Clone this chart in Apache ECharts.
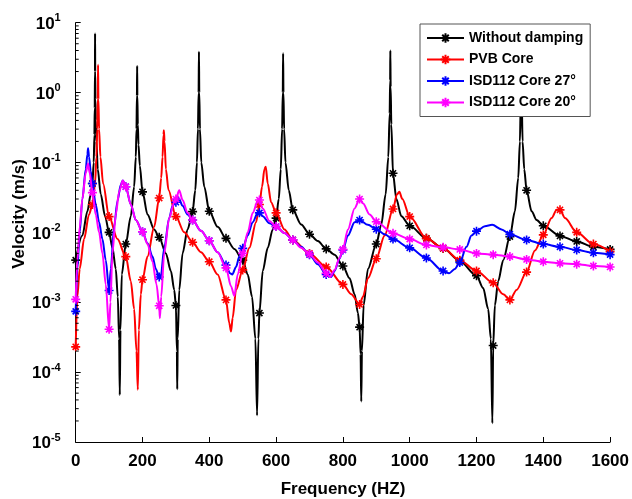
<!DOCTYPE html>
<html>
<head>
<meta charset="utf-8">
<script src="https://cdn.jsdelivr.net/npm/echarts@6/dist/echarts.min.js"></script>
<style>
html,body{margin:0;padding:0;background:#fff;}
#chart{width:632px;height:499px;}
</style>
</head>
<body>
<div id="chart"></div>
<script>
// ---- data: [frequency (Hz), velocity (m/s)] ----
const noDamping = [
 [0,0.004],[20,0.009],[35,0.02],[45,0.035],[50,0.05],[54,0.1],[56,0.25],[57,0.6],[57.7,2],[58,7],[58.4,2],[59,0.8],[60,0.4],[62,0.2],[66,0.08],[75,0.035],[88,0.017],[100,0.010],[110,0.006],[120,0.003],[126,0.0012],[130,0.0003],[132,4.7e-5],[134,0.0004],[138,0.0025],[150,0.0068],[165,0.017],[175,0.045],[180,0.12],[182,0.3],[183.3,0.9],[184,2.4],[184.6,0.9],[186,0.35],[188,0.18],[192,0.09],[200,0.038],[215,0.018],[235,0.011],[250,0.0085],[270,0.005],[285,0.0028],[295,0.0015],[300,0.0009],[303,0.0002],[304,5.7e-5],[305.5,0.0003],[310,0.0015],[320,0.005],[335,0.011],[350,0.0198],[358,0.04],[363,0.1],[366,0.3],[368,1.0],[369,3.85],[370,1.0],[372,0.3],[376,0.1],[385,0.045],[400,0.020],[425,0.012],[450,0.0082],[475,0.0058],[500,0.0040],[515,0.0025],[528,0.0012],[538,0.0003],[543,2.4e-5],[547,0.0003],[550,0.0007],[560,0.0028],[575,0.006],[590,0.011],[600,0.016],[608,0.03],[614,0.08],[618,0.3],[620,1.0],[621,3.65],[622,1.0],[624,0.3],[628,0.1],[638,0.04],[650,0.021],[675,0.013],[700,0.0094],[725,0.0075],[750,0.0058],[775,0.0048],[800,0.0033],[820,0.0022],[835,0.0013],[845,0.0007],[850,0.00044],[853,0.00018],[855,3.8e-5],[857,0.0002],[862,0.0009],[875,0.003],[900,0.0068],[915,0.013],[928,0.035],[936,0.12],[940,0.5],[941.5,1.5],[942,4],[943,1.2],[945,0.35],[950,0.070],[960,0.030],[975,0.017],[1000,0.0124],[1050,0.0082],[1100,0.0059],[1150,0.0039],[1200,0.0024],[1220,0.0016],[1235,0.0008],[1243,0.0003],[1247.5,1.86e-5],[1250,0.00024],[1255,0.0009],[1265,0.002],[1280,0.004],[1300,0.0087],[1315,0.02],[1325,0.06],[1330,0.2],[1333,1],[1334,3],[1335,1],[1338,0.2],[1343,0.08],[1350,0.040],[1365,0.02],[1380,0.015],[1400,0.0124],[1450,0.0089],[1500,0.0074],[1550,0.0062],[1600,0.0057]
];
const pvbCore = [
 [0,2.3e-4],[5,0.0012],[12,0.003],[25,0.008],[40,0.018],[50,0.025],[58,0.05],[62,0.12],[64.5,0.3],[66,0.8],[67,2.5],[68,0.8],[70,0.3],[74,0.12],[82,0.05],[100,0.0168],[125,0.008],[150,0.0045],[165,0.002],[175,0.0008],[182,0.0002],[186,5.6e-5],[189,0.0004],[195,0.0013],[200,0.0021],[215,0.0045],[235,0.012],[250,0.031],[256,0.06],[260,0.12],[263,0.25],[264,0.29],[266,0.2],[270,0.08],[278,0.04],[300,0.0168],[325,0.010],[350,0.0072],[375,0.0052],[400,0.0038],[425,0.0025],[450,0.00108],[460,0.0005],[465,0.00038],[470,0.0006],[480,0.0015],[500,0.0029],[520,0.006],[540,0.014],[550,0.025],[558,0.045],[565,0.08],[569,0.087],[575,0.05],[585,0.027],[600,0.019],[625,0.011],[650,0.0078],[700,0.0050],[750,0.0032],[800,0.0018],[825,0.0013],[850,0.00093],[860,0.0012],[875,0.0022],[900,0.0042],[925,0.009],[950,0.0216],[962,0.035],[969,0.038],[978,0.03],[1000,0.0168],[1050,0.0082],[1100,0.0059],[1150,0.0040],[1200,0.0028],[1250,0.0019],[1280,0.0013],[1300,0.00108],[1320,0.0015],[1350,0.0027],[1375,0.0055],[1400,0.0092],[1425,0.016],[1440,0.021],[1450,0.021],[1465,0.016],[1500,0.010],[1550,0.0068],[1600,0.0053]
];
const isd27 = [
 [0,7.4e-4],[5,0.003],[12,0.01],[20,0.03],[30,0.08],[35,0.13],[37,0.16],[40,0.12],[45,0.075],[50,0.050],[60,0.025],[70,0.014],[80,0.008],[90,0.004],[100,0.00147],[105,0.003],[115,0.012],[125,0.028],[135,0.048],[141,0.055],[150,0.045],[165,0.025],[180,0.015],[200,0.0102],[215,0.007],[230,0.0045],[240,0.003],[250,0.0023],[255,0.0024],[265,0.006],[280,0.016],[290,0.024],[300,0.027],[308,0.031],[320,0.024],[335,0.018],[350,0.015],[375,0.0105],[400,0.0076],[425,0.0052],[450,0.0034],[462,0.0026],[469,0.0025],[480,0.0032],[490,0.0045],[500,0.0059],[515,0.009],[530,0.014],[545,0.019],[550,0.019],[560,0.017],[580,0.0135],[600,0.0121],[625,0.0098],[650,0.0078],[675,0.0062],[700,0.0048],[725,0.0035],[750,0.0025],[765,0.0023],[775,0.0028],[790,0.0042],[800,0.0056],[815,0.009],[835,0.014],[850,0.015],[875,0.0128],[900,0.0111],[925,0.0094],[950,0.0080],[1000,0.0060],[1050,0.0043],[1100,0.0028],[1118,0.0026],[1135,0.003],[1150,0.0037],[1170,0.0062],[1185,0.009],[1200,0.0104],[1225,0.0122],[1247,0.0128],[1275,0.011],[1300,0.0094],[1350,0.0078],[1400,0.0068],[1450,0.0062],[1500,0.0056],[1550,0.0051],[1600,0.0048]
];
const isd20 = [
 [0,0.0011],[5,0.004],[12,0.012],[20,0.03],[30,0.07],[37,0.097],[42,0.07],[50,0.037],[60,0.018],[70,0.01],[80,0.005],[90,0.0018],[100,0.00041],[104,0.001],[110,0.005],[120,0.018],[130,0.038],[141,0.055],[150,0.045],[165,0.025],[180,0.015],[200,0.0102],[215,0.0068],[230,0.0038],[242,0.0018],[250,0.00089],[252,0.00059],[256,0.0012],[265,0.005],[280,0.016],[295,0.027],[300,0.030],[310,0.040],[320,0.029],[335,0.019],[350,0.015],[375,0.0105],[400,0.0076],[425,0.0052],[450,0.0031],[465,0.0017],[475,0.00123],[485,0.0025],[500,0.005],[515,0.01],[530,0.019],[545,0.028],[550,0.029],[560,0.022],[580,0.0145],[600,0.0121],[625,0.0098],[650,0.0078],[675,0.006],[700,0.0049],[725,0.0037],[750,0.0026],[762,0.0023],[775,0.0029],[790,0.0043],[800,0.0057],[815,0.011],[835,0.022],[850,0.030],[860,0.026],[880,0.018],[900,0.0142],[950,0.0097],[1000,0.0080],[1050,0.0066],[1100,0.0061],[1150,0.0057],[1200,0.0050],[1250,0.0048],[1300,0.0045],[1350,0.0041],[1400,0.0038],[1450,0.0036],[1500,0.0035],[1550,0.0033],[1600,0.0032]
];
const seriesNames = ['Without damping', 'PVB Core', 'ISD112 Core 27\u00b0', 'ISD112 Core 20\u00b0'];
const seriesColors = ['#000000', '#ff0000', '#0000ff', '#ff00ff'];
const xTicks = [0, 200, 400, 600, 800, 1000, 1200, 1400, 1600];
const yExponents = [-5, -4, -3, -2, -1, 0, 1];
const minorMantissas = [2, 3, 4, 5, 6, 7, 8, 9];
const markerStep = 50;

const FONT = '"Liberation Sans", Arial, Helvetica, sans-serif';
const STAR = 'path://M5,0L5,10M0,5L10,5M1.6,1.6L8.4,8.4M1.6,8.4L8.4,1.6';

function withMarkers(arr) {
  return arr.map(function (p) {
    return (p[0] % markerStep === 0) ? { value: p } : { value: p, symbol: 'none' };
  });
}

// minor tick values on the log y axis (2..9 x 10^e)
const minorTickValues = [];
yExponents.slice(0, -1).forEach(function (e) {
  minorMantissas.forEach(function (m) { minorTickValues.push([xTicks[0], m * Math.pow(10, e)]); });
});

const yMin = Math.pow(10, yExponents[0]);
const yMax = Math.pow(10, yExponents[yExponents.length - 1]);
const allData = [noDamping, pvbCore, isd27, isd20];

const lineSeries = allData.map(function (d, i) {
  return {
    name: seriesNames[i], type: 'line', data: withMarkers(d),
    smooth: 0.3, smoothMonotone: 'x',
    symbol: STAR, symbolSize: 9, showSymbol: true, showAllSymbol: true,
    lineStyle: { color: seriesColors[i], width: 2 },
    itemStyle: { color: seriesColors[i], borderColor: seriesColors[i], borderWidth: 1.6 },
    emphasis: { disabled: true },
    clip: true, z: 2 + i
  };
});

lineSeries.push({
  name: 'minorTicks', type: 'custom', data: minorTickValues, clip: false, silent: true, z: 10,
  renderItem: function (params, api) {
    const p = api.coord([api.value(0), api.value(1)]);
    return { type: 'line', shape: { x1: p[0], y1: p[1], x2: p[0] + 3, y2: p[1] },
      style: { stroke: '#000', lineWidth: 1 } };
  }
});

const chart = echarts.init(document.getElementById('chart'), null, { renderer: 'canvas' });
chart.setOption({
  animation: false,
  backgroundColor: '#ffffff',
  grid: { left: 75.7, right: 21.3, top: 22.7, bottom: 57, containLabel: false },
  legend: {
    orient: 'vertical',
    left: 420, top: 24,
    padding: [6, 7, 6, 6],
    itemGap: 5.5,
    itemWidth: 37, itemHeight: 12,
    backgroundColor: '#ffffff',
    borderColor: '#555555', borderWidth: 1,
    textStyle: { fontFamily: FONT, fontWeight: 'bold', fontSize: 14, color: '#000', lineHeight: 16 },
    data: seriesNames
  },
  xAxis: {
    type: 'value', min: xTicks[0], max: xTicks[xTicks.length - 1], interval: 200,
    axisLine: { show: true, onZero: false, lineStyle: { color: '#000', width: 1 } },
    axisTick: { show: true, inside: true, length: 5, lineStyle: { color: '#000' } },
    axisLabel: { margin: 11, color: '#000', fontFamily: FONT, fontWeight: 'bold', fontSize: 17,
      formatter: function (v) { return String(v); } },
    splitLine: { show: false }
  },
  yAxis: {
    type: 'log', logBase: 10, min: yMin, max: yMax, interval: 1,
    axisLine: { show: true, onZero: false, lineStyle: { color: '#000', width: 1 } },
    axisTick: { show: true, inside: true, length: 5, lineStyle: { color: '#000' } },
    minorTick: { show: false },
    axisLabel: {
      margin: 15, color: '#000',
      formatter: function (v) {
        const e = Math.round(Math.log10(v));
        return '{b|10}{s|' + (e < 0 ? '-' : '') + Math.abs(e) + '}';
      },
      rich: {
        b: { fontFamily: FONT, fontWeight: 'bold', fontSize: 17, color: '#000', verticalAlign: 'bottom', lineHeight: 20 },
        s: { fontFamily: FONT, fontWeight: 'bold', fontSize: 11, color: '#000', verticalAlign: 'top', lineHeight: 20 }
      }
    },
    splitLine: { show: false }
  },
  graphic: [
    { type: 'text', x: 343, y: 489, style: { text: 'Frequency (HZ)', align: 'center', verticalAlign: 'middle', font: 'bold 17px ' + FONT, fill: '#000' } },
    { type: 'text', x: 19, y: 214, rotation: Math.PI / 2, style: { text: 'Velocity (m/s)', align: 'center', verticalAlign: 'middle', font: 'bold 17px ' + FONT, fill: '#000' } }
  ],
  series: lineSeries
});
</script>
</body>
</html>
